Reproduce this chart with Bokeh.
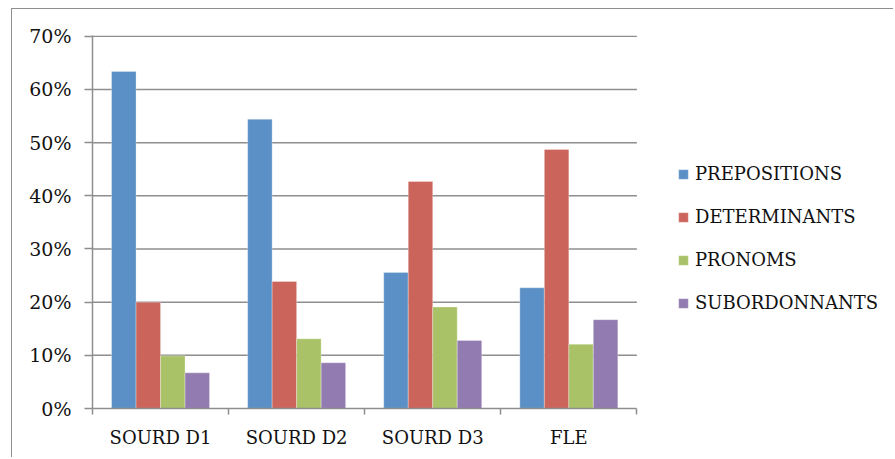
from bokeh.plotting import figure
from bokeh.models import (ColumnDataSource, FixedTicker, NumeralTickFormatter,
                          Range1d, Legend, LegendItem)
from bokeh.embed import file_html
from bokeh.resources import INLINE

categories = ["SOURD D1", "SOURD D2", "SOURD D3", "FLE"]
series_names = ["PREPOSITIONS", "DETERMINANTS", "PRONOMS", "SUBORDONNANTS"]
prepositions = [0.634, 0.544, 0.256, 0.227]
determinants = [0.200, 0.239, 0.427, 0.487]
pronoms = [0.099, 0.131, 0.191, 0.121]
subordonnants = [0.067, 0.086, 0.128, 0.167]
y_ticks = [0.0, 0.1, 0.2, 0.3, 0.4, 0.5, 0.6, 0.7]

series_values = [prepositions, determinants, pronoms, subordonnants]
colors = ["#5b90c6", "#cb645a", "#aac267", "#917bb0"]
offsets = [-0.27, -0.09, 0.09, 0.27]
bar_w = 0.18

FONT = "DejaVu Serif"
GRID = "#8e8e8e"
TXT = "#111111"

n_cat = len(categories)
# frame extends to the right edge so the legend fits inside; axis/grid stop at n_cat
p = figure(width=882, height=449, output_backend="svg", toolbar_location=None,
           x_range=Range1d(0, 5.893), y_range=Range1d(0, 0.7015),
           min_border_left=80, min_border_right=0, min_border_top=26,
           min_border_bottom=50, tools="")
p.outline_line_color = None
p.background_fill_color = "white"
p.border_fill_color = "white"
p.styles = {"margin-left": "11px", "margin-top": "8px",
            "border-left": "1.5px solid " + GRID, "border-top": "1.5px solid " + GRID}

# horizontal gridlines across the category area only
grid_src = ColumnDataSource(dict(y=y_ticks[1:], x0=[0] * (len(y_ticks) - 1),
                                 x1=[n_cat] * (len(y_ticks) - 1)))
p.segment(x0="x0", x1="x1", y0="y", y1="y", source=grid_src,
          line_color=GRID, line_width=1.5)

renderers = []
for vals, col, off in zip(series_values, colors, offsets):
    src = ColumnDataSource(dict(x=[i + 0.5 + off for i in range(n_cat)], top=vals))
    r = p.vbar(x="x", top="top", width=bar_w, bottom=0, source=src,
               fill_color=col, line_color="#ffffff", line_alpha=0.5, line_width=0.6)
    renderers.append(r)

# X axis: labels at centers, ticks at boundaries
xt = FixedTicker(ticks=[i + 0.5 for i in range(n_cat)],
                 minor_ticks=list(range(n_cat + 1)))
p.xaxis.ticker = xt
p.xaxis.bounds = (0, n_cat)
p.xaxis.major_label_overrides = {i + 0.5: c for i, c in enumerate(categories)}
p.xaxis.major_tick_out = 0
p.xaxis.major_tick_in = 0
p.xaxis.minor_tick_out = 6
p.xaxis.minor_tick_in = 0
p.xaxis.minor_tick_line_color = GRID
p.xaxis.minor_tick_line_width = 1.5
p.xaxis.axis_line_color = GRID
p.xaxis.axis_line_width = 1.5
p.xaxis.major_label_text_font = FONT
p.xaxis.major_label_text_font_size = "18px"
p.xaxis.major_label_text_color = TXT
p.xaxis.major_label_standoff = 12

p.yaxis.ticker = FixedTicker(ticks=y_ticks)
p.yaxis.formatter = NumeralTickFormatter(format="0%")
p.yaxis.major_tick_out = 8
p.yaxis.major_tick_in = 0
p.yaxis.minor_tick_line_color = None
p.yaxis.major_tick_line_color = GRID
p.yaxis.major_tick_line_width = 1.5
p.yaxis.axis_line_color = GRID
p.yaxis.axis_line_width = 1.5
p.yaxis.major_label_text_font = FONT
p.yaxis.major_label_text_font_size = "19px"
p.yaxis.major_label_text_color = TXT
p.yaxis.major_label_standoff = 13

p.xgrid.grid_line_color = None
p.ygrid.grid_line_color = None

legend = Legend(items=[LegendItem(label=n, renderers=[r]) for n, r in zip(series_names, renderers)],
                location=(585, 95), orientation="vertical",
                glyph_width=12, glyph_height=12, label_height=20, spacing=22,
                label_standoff=6, padding=0, margin=0,
                border_line_color=None, background_fill_alpha=0,
                label_text_font=FONT, label_text_font_size="18px",
                label_text_color=TXT)
p.add_layout(legend, "center")

open("out.html", "w").write(file_html(p, INLINE))
